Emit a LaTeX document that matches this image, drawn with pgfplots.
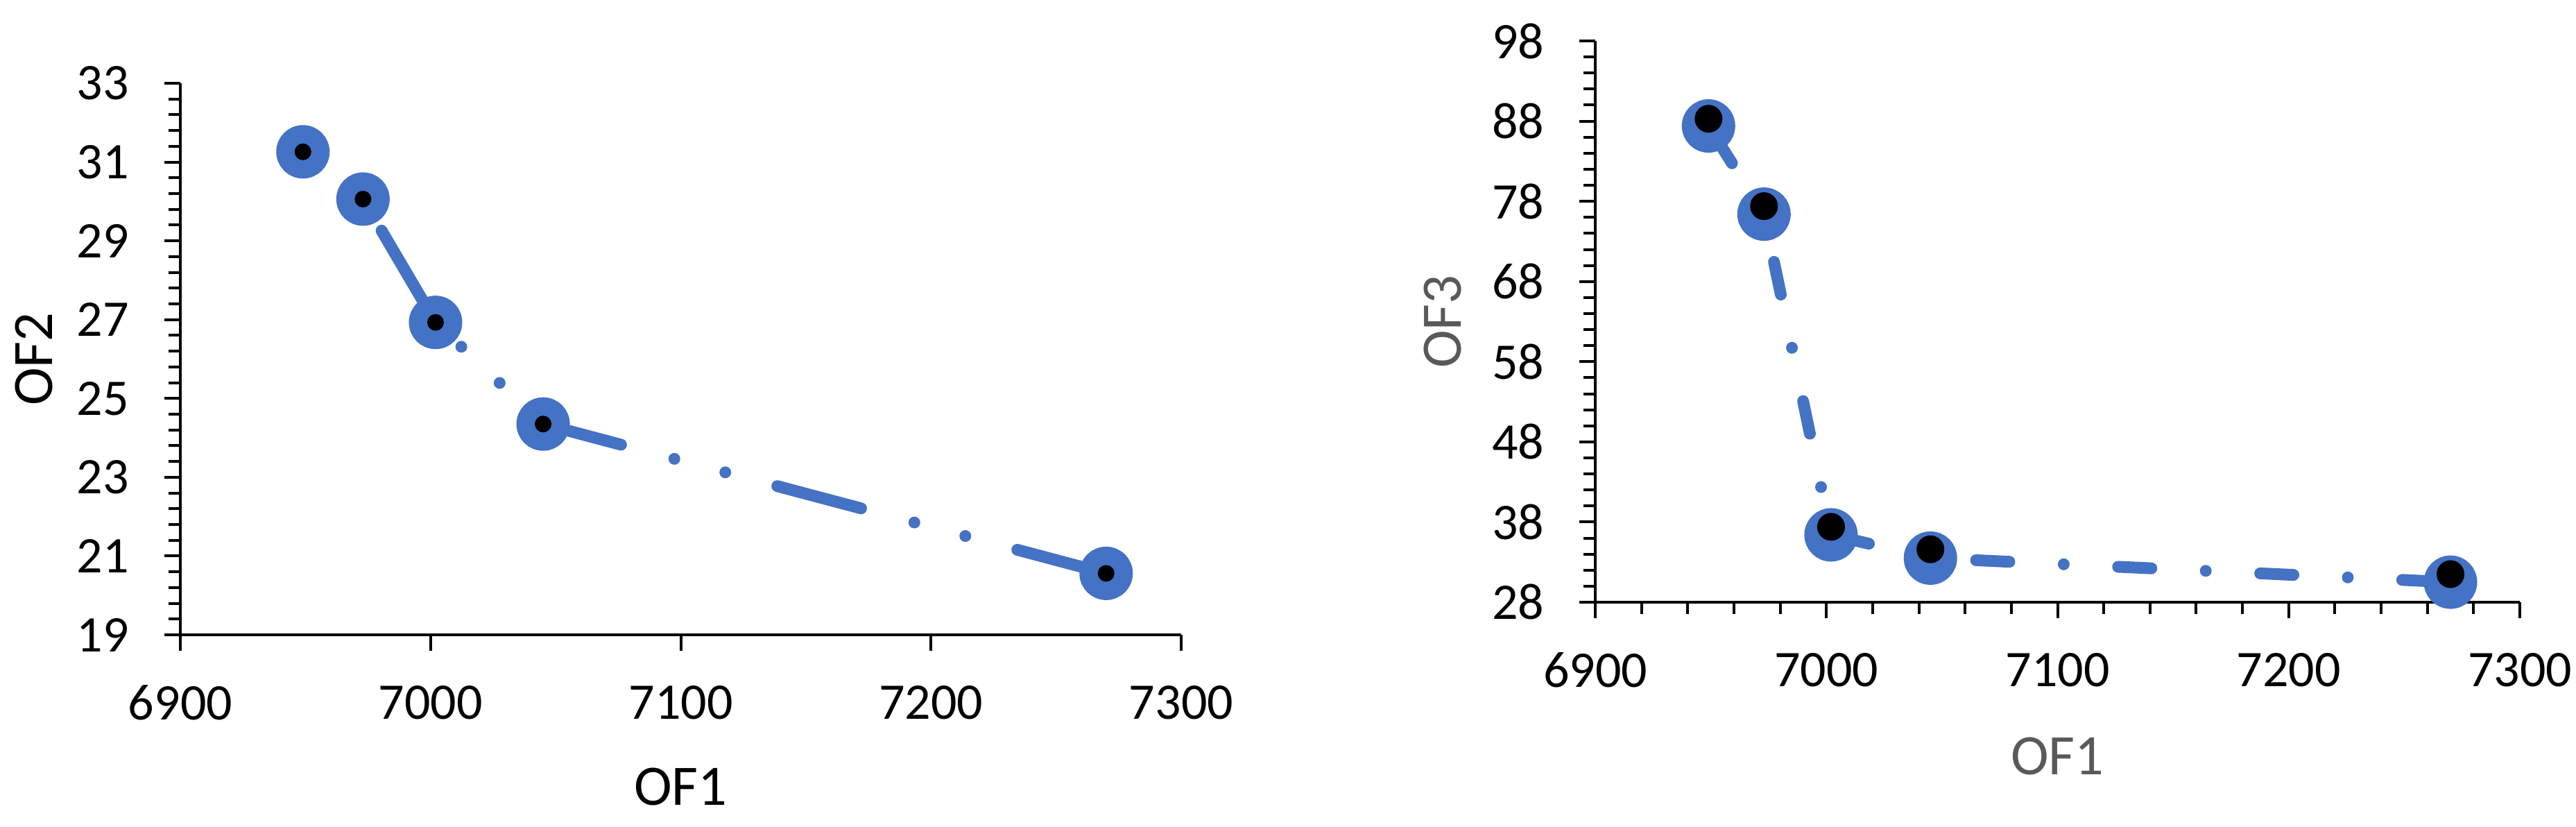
\documentclass[border=0pt]{standalone}
\usepackage{fontspec}
\setmainfont{Carlito}
\usepackage{pgfplots}
\pgfplotsset{compat=1.18}
\definecolor{xlblue}{HTML}{4472C4}
\definecolor{xlgrey}{HTML}{595959}

\pgfplotsset{
  frontier/.style={
    scale only axis,
    anchor=south west,
    axis x line=bottom, axis y line=left,
    axis line style={-, line width=0.8bp, black},
    every outer x axis line/.append style={-},
    every outer y axis line/.append style={-},
    tick align=outside,
    tick style={black, line width=0.8bp},
    major tick length=4.6bp,
    minor tick length=3.4bp,
    tick label style={font=\fontsize{14.8bp}{17bp}\selectfont, inner sep=0pt},
    xticklabel shift=9.8bp,
    yticklabel shift=10bp,
    /pgf/number format/assume math mode=true,
    /pgf/number format/1000 sep={},
    xmin=6900, xmax=7300,
    xtick={6900,7000,...,7300},
    clip=false,
    label style={font=\fontsize{16.5bp}{19bp}\selectfont, inner sep=0pt},
  },
}

\begin{document}
\begin{tikzpicture}
\useasboundingbox (0,0) rectangle (742.8bp,238.4bp);

% OF1 vs OF2
\begin{axis}[frontier, at={(52bp,55.4bp)}, width=288.6bp, height=159bp,
  ymin=19, ymax=33, ytick={19,21,...,33}, minor y tick num=4,
  xlabel={OF1}, ylabel={OF2},
  xlabel style={at={(axis description cs:0.5,-0.2403)}, anchor=north},
  ylabel style={at={(axis description cs:-0.1268,0.5)}, anchor=south},
]
\addplot[xlblue, line width=3.4bp, line cap=round,
  dash pattern=on 25bp off 15.9bp on 0bp off 15.2bp on 0bp off 15.5bp, dash phase=39bp,
  mark=*, mark size=6bp, mark options={solid, fill=xlblue, draw=none}]
  coordinates {(6949,31.26) (6973,30.06) (7002,26.93) (7045,24.35) (7270,20.56)};
\addplot[only marks, mark=*, mark size=2.2bp, mark options={fill=black, draw=none}]
  coordinates {(6949,31.26) (6973,30.06) (7002,26.93) (7045,24.35) (7270,20.56)};
\end{axis}

% OF1 vs OF3
\begin{axis}[frontier, at={(460bp,64.8bp)}, width=266.6bp, height=161.8bp,
  ymin=28, ymax=98, ytick={28,38,...,98}, minor y tick num=4, minor x tick num=4,
  xlabel={OF1}, ylabel={OF3},
  label style={text=xlgrey},
  xlabel style={at={(axis description cs:0.5,-0.2398)}, anchor=north},
  ylabel style={at={(axis description cs:-0.144,0.5)}, anchor=south},
]
\addplot[xlblue, line width=3.4bp, line cap=round,
  dash pattern=on 9.6bp off 15.7bp on 0bp off 15.7bp, dash phase=37.9bp,
  mark=*, mark size=6bp, mark options={solid, fill=xlblue, draw=none}]
  coordinates {(6949,87.4) (6973,76.4) (7002,36.4) (7045,33.5) (7270,30.5)};
\addplot[only marks, mark=*, mark size=3.8bp, mark options={fill=black, draw=none}]
  coordinates {(6949,88.3) (6973,77.4) (7002,37.4) (7045,34.6) (7270,31.5)};
\end{axis}
\end{tikzpicture}
\end{document}
